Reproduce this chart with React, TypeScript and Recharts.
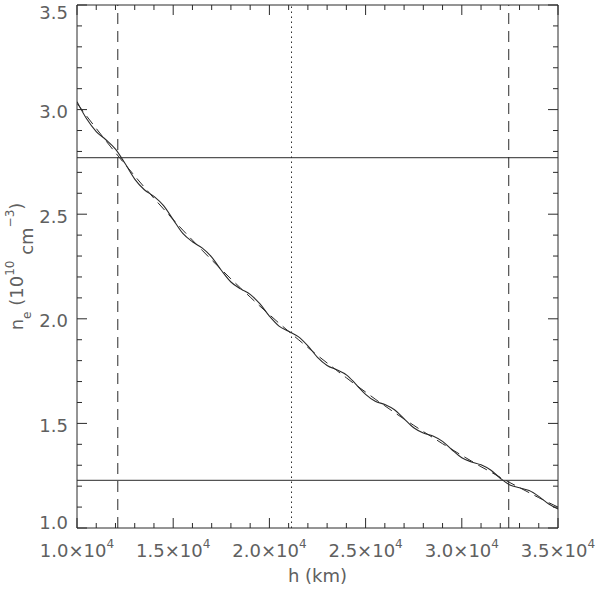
import React from 'react';
import {
  LineChart,
  Line,
  XAxis,
  YAxis,
  ReferenceLine,
} from 'recharts';

// heights in km
const heights = [
  10000, 10500, 11000, 11500, 12000, 12500, 13000, 13500, 14000, 14500,
  15000, 15500, 16000, 16500, 17000, 17500, 18000, 18500, 19000, 19500,
  20000, 20500, 21000, 21500, 22000, 22500, 23000, 23500, 24000, 24500,
  25000, 25500, 26000, 26500, 27000, 27500, 28000, 28500, 29000, 29500,
  30000, 30500, 31000, 31500, 32000, 32500, 33000, 33500, 34000, 34500,
  35000,
];

// measured density (solid, wavy), 10^10 cm^-3
const measured = [
  3.038, 2.956, 2.895, 2.856, 2.811, 2.742, 2.668, 2.617, 2.585, 2.541,
  2.474, 2.408, 2.368, 2.339, 2.295, 2.232, 2.176, 2.143, 2.117, 2.072,
  2.013, 1.965, 1.940, 1.915, 1.871, 1.816, 1.777, 1.756, 1.732, 1.687,
  1.639, 1.606, 1.590, 1.565, 1.522, 1.479, 1.454, 1.440, 1.414, 1.373,
  1.336, 1.316, 1.302, 1.277, 1.238, 1.206, 1.192, 1.179, 1.151, 1.116,
  1.091,
];

// fitted density (dashed, smooth)
const fitted = [
  3.030, 2.969, 2.910, 2.851, 2.794, 2.738, 2.683, 2.629, 2.576, 2.525,
  2.474, 2.424, 2.376, 2.328, 2.281, 2.236, 2.191, 2.147, 2.104, 2.061,
  2.020, 1.979, 1.940, 1.901, 1.863, 1.825, 1.789, 1.753, 1.718, 1.683,
  1.650, 1.616, 1.584, 1.552, 1.521, 1.491, 1.461, 1.432, 1.403, 1.375,
  1.347, 1.320, 1.293, 1.268, 1.242, 1.217, 1.193, 1.169, 1.145, 1.122,
  1.100,
];

const xTicks = [
  10000, 11000, 12000, 13000, 14000, 15000, 16000, 17000, 18000, 19000,
  20000, 21000, 22000, 23000, 24000, 25000, 26000, 27000, 28000, 29000,
  30000, 31000, 32000, 33000, 34000, 35000,
];
const xMajor = [10000, 15000, 20000, 25000, 30000, 35000];
const xMajorLabels = ['1.0', '1.5', '2.0', '2.5', '3.0', '3.5'];

const yTicks = [
  1.0, 1.1, 1.2, 1.3, 1.4, 1.5, 1.6, 1.7, 1.8, 1.9, 2.0, 2.1, 2.2,
  2.3, 2.4, 2.5, 2.6, 2.7, 2.8, 2.9, 3.0, 3.1, 3.2, 3.3, 3.4, 3.5,
];
const yMajor = [1.0, 1.5, 2.0, 2.5, 3.0, 3.5];

const dashedHeights = [12120, 32440];
const dottedHeights = [21150];
const levelLines = [2.77, 1.228];

const X_MIN = 10000;
const X_MAX = 35000;
const Y_MIN = 1.0;
const Y_MAX = 3.5;

const data = heights.map((h, i) => ({ h, measured: measured[i], fitted: fitted[i] }));

const W = 600;
const H = 589;
const LEFT = 77;
const RIGHT = 42;
const TOP = 5;
const BOTTOM = 61;
const PLOT_W = W - LEFT - RIGHT;
const PLOT_H = H - TOP - BOTTOM;

const FONT = 'DejaVu Sans, sans-serif';
const INK = '#2a2a2a';
const TEXT = '#606060';
const MAJOR_LEN = 10;
const MINOR_LEN = 5;

const isMajor = (list: number[], v: number) => list.some((m) => Math.abs(m - v) < 1e-6);

// a full-span line whose dash pattern leaves only an inward stub at each end
const stubDash = (len: number, span: number) => `${len} ${span - 2 * len} ${len} ${span}`;

const BottomLabel = (props: any) => {
  const x = Number(props.x);
  const y = Number(props.y);
  const idx = xMajor.findIndex((m) => Math.abs(m - props.payload.value) < 1e-6);
  if (idx < 0) return <g />;
  return (
    <text x={x} y={y + 28.5} textAnchor="middle" fontFamily={FONT} fontSize={18} fill={TEXT}>
      {xMajorLabels[idx]}×10
      <tspan fontSize={12} dy={-9}>4</tspan>
    </text>
  );
};

const LeftLabel = (props: any) => {
  const x = Number(props.x);
  const y = Number(props.y);
  const v = Number(props.payload.value);
  if (!isMajor(yMajor, v)) return <g />;
  let dy = 8.5;
  if (Math.abs(v - Y_MAX) < 1e-6) dy = 14;
  if (Math.abs(v - Y_MIN) < 1e-6) dy = 1;
  return (
    <text x={x - 9} y={y + dy} textAnchor="end" fontFamily={FONT} fontSize={18} fill={TEXT}>
      {v.toFixed(1)}
    </text>
  );
};

const XTitle = (props: any) => {
  const vb = props.viewBox;
  return (
    <text x={vb.x + vb.width / 2} y={vb.y + 54} textAnchor="middle" fontFamily={FONT} fontSize={18} fill={TEXT}>
      h (km)
    </text>
  );
};

const YTitle = (props: any) => {
  const vb = props.viewBox;
  const cy = vb.y + vb.height / 2;
  return (
    <text
      transform={`translate(23, ${cy}) rotate(-90)`}
      textAnchor="middle"
      fontFamily={FONT}
      fontSize={18}
      fill={TEXT}
    >
      n
      <tspan fontSize={12} dy={8}>e</tspan>
      <tspan dy={-8}>{' (10'}</tspan>
      <tspan fontSize={12} dy={-9}>10</tspan>
      <tspan dy={19}>{' cm'}</tspan>
      <tspan fontSize={12} dy={-19}>−3</tspan>
      <tspan dy={9}>)</tspan>
    </text>
  );
};

export default function App() {
  return (
    <div style={{ position: 'absolute', left: 0, top: 0, background: '#fff' }}>
      <LineChart width={W} height={H} data={data} margin={{ top: TOP, right: RIGHT, bottom: 0, left: 0 }}>
        <XAxis
          dataKey="h"
          type="number"
          domain={[X_MIN, X_MAX]}
          ticks={xTicks}
          interval={0}
          tickSize={0}
          tickMargin={0}
          tickLine={false}
          tick={BottomLabel}
          axisLine={{ stroke: INK }}
          height={BOTTOM}
          allowDataOverflow
          label={XTitle}
        />
        <YAxis
          type="number"
          domain={[Y_MIN, Y_MAX]}
          ticks={yTicks}
          interval={0}
          tickSize={0}
          tickMargin={0}
          tickLine={false}
          tick={LeftLabel}
          axisLine={{ stroke: INK }}
          width={LEFT}
          allowDataOverflow
          label={YTitle}
        />
        <ReferenceLine y={Y_MAX} stroke={INK} />
        <ReferenceLine x={X_MAX} stroke={INK} />
        {xTicks.map((t) => (
          <ReferenceLine
            key={`xt${t}`}
            x={t}
            stroke={INK}
            strokeDasharray={stubDash(isMajor(xMajor, t) ? MAJOR_LEN : MINOR_LEN, PLOT_H)}
          />
        ))}
        {yTicks.map((t) => (
          <ReferenceLine
            key={`yt${t}`}
            y={t}
            stroke={INK}
            strokeDasharray={stubDash(isMajor(yMajor, t) ? MAJOR_LEN : MINOR_LEN, PLOT_W)}
          />
        ))}
        {dashedHeights.map((h) => (
          <ReferenceLine key={`d${h}`} x={h} stroke={INK} strokeDasharray="11 7" />
        ))}
        {dottedHeights.map((h) => (
          <ReferenceLine key={`o${h}`} x={h} stroke={INK} strokeDasharray="1.5 3.5" />
        ))}
        {levelLines.map((v) => (
          <ReferenceLine key={`l${v}`} y={v} stroke={INK} />
        ))}
        <Line
          dataKey="fitted"
          type="monotone"
          stroke={INK}
          strokeWidth={1}
          strokeDasharray="10 6"
          dot={false}
          isAnimationActive={false}
        />
        <Line
          dataKey="measured"
          type="monotone"
          stroke={INK}
          strokeWidth={1.1}
          dot={false}
          isAnimationActive={false}
        />
      </LineChart>
    </div>
  );
}
